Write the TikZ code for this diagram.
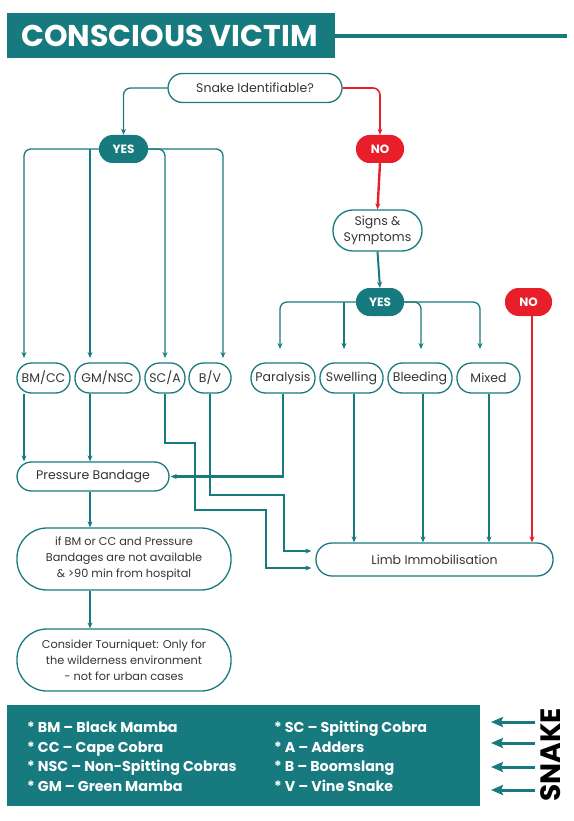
\documentclass[tikz,border=0pt]{standalone}
\usepackage{fontspec}
\setmainfont{Poppins}
\usetikzlibrary{arrows.meta,calc}
\definecolor{teal1}{HTML}{177A7F}
\definecolor{red1}{HTML}{E81E2B}
\definecolor{txt}{HTML}{353535}
\begin{document}
\begin{tikzpicture}[x=1pt,y=-1pt,
  pill/.style={draw=teal1, line width=1.3pt, fill=white, text=txt,
    font=\fontsize{12.5}{16.5}\selectfont, align=center, inner sep=0pt,
    minimum height=30pt, rounded corners=14.5pt},
  multi/.style={pill, font=\fontsize{11.3}{16}\selectfont, minimum width=214pt, minimum height=62pt, rounded corners=30pt},
  tag/.style={fill=teal1, text=white, font=\bfseries\fontsize{12}{12}\selectfont,
    inner sep=0pt, minimum width=49pt, minimum height=28pt, rounded corners=13.5pt},
  redtag/.style={tag, fill=red1},
  arrA/.style={draw=teal1, line width=1.3pt, -{Stealth[length=6pt,width=5pt]}},
  arrB/.style={draw=teal1, line width=2pt, -{Stealth[length=6pt,width=5pt]}},
  arrC/.style={draw=teal1, line width=2.7pt, -{Stealth[length=6pt,width=5pt]}},
  arrR/.style={draw=red1, line width=1.6pt, -{Stealth[length=6pt,width=5pt]}},
  arrRB/.style={draw=red1, line width=2.4pt, -{Stealth[length=6pt,width=5pt]}},
  legtext/.style={anchor=base west, text=white, font=\bfseries\fontsize{14.3}{14.3}\selectfont, inner sep=0pt},
  legarrow/.style={draw=teal1, line width=3pt, -{Stealth[length=12pt,width=10pt,inset=2pt]}}
]
\useasboundingbox (0,0) rectangle (573,821);

% header
\fill[teal1] (6.6,13) rectangle (335,58);
\node[text=white, font=\bfseries\fontsize{30}{30}\selectfont, inner sep=0pt] (title) at (169.5,35.5) {CONSCIOUS VICTIM};
\coordinate (hlineend) at (567,36);
\draw[teal1, line width=3.5pt] (335,36) -- (hlineend);

% nodes
\node[pill, minimum width=174pt, minimum height=29pt] (snake) at (255,88) {Snake Identifiable?};
\node[tag] (yesL) at (123.5,149) {YES};
\node[redtag, minimum width=48pt] (noT) at (380,149) {NO};
\node[pill, minimum width=89pt, minimum height=41pt, rounded corners=20pt] (signs) at (377.5,230.5) {Signs \&\\Symptoms};
\node[tag, minimum width=48pt] (yesR) at (380,302) {YES};
\node[redtag, minimum width=47pt] (noR) at (528.5,302) {NO};

\node[pill, minimum width=53pt] (bmcc) at (43.5,378) {BM/CC};
\node[pill, minimum width=65pt] (gmnsc) at (107.5,378) {GM/NSC};
\node[pill, minimum width=40pt] (sca) at (165,378) {SC/A};
\node[pill, minimum width=42pt] (bv) at (210,378) {B/V};
\node[pill, minimum width=64pt] (para) at (283,378) {Paralysis};
\node[pill, minimum width=63pt] (swell) at (351.5,378) {Swelling};
\node[pill, minimum width=64pt] (bleed) at (420,378) {Bleeding};
\node[pill, minimum width=63pt] (mixed) at (488.5,378) {Mixed};

\node[pill, minimum width=152pt, minimum height=29pt] (pb) at (93,476.5) {Pressure Bandage};
\node[multi] (ifbm) at (124,559) {if BM or CC and Pressure\\Bandages are not available\\\& >90 min from hospital};
\node[multi] (tourn) at (124,660) {Consider Tourniquet: Only for\\the wilderness environment\\- not for urban cases};
\node[pill, minimum width=237pt, minimum height=33pt, rounded corners=16pt] (limb) at (434.5,559.5) {Limb Immobilisation};

% arrow entry points
\coordinate (tBM) at (24,358);
\coordinate (tGM) at (90,358);
\coordinate (tSC) at (165,358);
\coordinate (tBV) at (223,358);
\coordinate (tPA) at (280,349);
\coordinate (tSW) at (344,349);
\coordinate (tBL) at (421,349);
\coordinate (tMX) at (480,349);

% top
\draw[arrA, rounded corners=7pt] (snake.west) -| (yesL.north);
\draw[arrR, rounded corners=7pt] (snake.east) -| (noT.north);
\draw[arrRB] (noT.south) -- (signs.north);
\draw[arrB] (signs.south) -- (yesR.north);

% left YES branches
\draw[arrA, rounded corners=7pt] (yesL.west) -| (tBM);
\draw[arrA] (yesL.west -| tGM) -- (tGM);
\draw[arrA, rounded corners=7pt] (yesL.east) -| (tSC);
\draw[arrA, rounded corners=7pt] (yesL.east) -| (tBV);

% right YES branches
\draw[arrA, rounded corners=7pt] (yesR.west) -| (tPA);
\draw[arrA] (yesR.west -| tSW) -- (tSW);
\draw[arrA, rounded corners=7pt] (yesR.east) -| (tBL);
\draw[arrA, rounded corners=7pt] (yesR.east) -| (tMX);

% below boxes
\draw[arrC] (bmcc.south -| tBM) -- (tBM |- pb.north);
\draw[arrC] (gmnsc.south -| tGM) -- (tGM |- pb.north);
\draw[arrC] (sca.south) -- (165,443) -- (195,443) -- (195,510) -- (266,510) -- (266,568) -- ([xshift=-4pt,yshift=-8.5pt]limb.west);
\draw[arrC] (bv.south) -- (210,495) -- (284,495) -- (284,551) -- ([xshift=-4pt,yshift=8.5pt]limb.west);
\draw[arrC] (para.south) |- ([xshift=1pt]pb.east);
\draw[arrB] ([xshift=2.5pt]swell.south) -- ([xshift=2.5pt]swell.south |- limb.north);
\draw[arrB] ([xshift=3pt]bleed.south) -- ([xshift=3pt]bleed.south |- limb.north);
\draw[arrB] ([xshift=0.5pt]mixed.south) -- ([xshift=0.5pt]mixed.south |- limb.north);
\draw[arrR] ([xshift=3.5pt]noR.south) -- ([xshift=3.5pt]noR.south |- limb.north);
\draw[arrC] (pb.south -| tGM) -- (tGM |- ifbm.north);
\draw[arrB] (ifbm.south -| tGM) -- (tGM |- tourn.north);

% legend
\fill[teal1] (6.6,705) rectangle (480,806);
\node[legtext] (l1) at (27,732) {* BM – Black Mamba};
\node[legtext] (l2) at (27,752) {* CC – Cape Cobra};
\node[legtext] (l3) at (27,771) {* NSC – Non-Spitting Cobras};
\node[legtext] (l4) at (27,791) {* GM – Green Mamba};
\node[legtext] (r1) at (274,732) {* SC – Spitting Cobra};
\node[legtext] (r2) at (274,752) {* A – Adders};
\node[legtext] (r3) at (274,771) {* B – Boomslang};
\node[legtext] (r4) at (274,791) {* V – Vine Snake};

\node[rotate=90, font=\bfseries\fontsize{28}{28}\selectfont, inner sep=0pt] (snk) at (551,755) {SNAKE};
\coordinate (a1s) at (535,722); \coordinate (a1e) at (491,722);
\coordinate (a2s) at (535,743); \coordinate (a2e) at (491,743);
\coordinate (a3s) at (535,767); \coordinate (a3e) at (491,767);
\coordinate (a4s) at (535,790); \coordinate (a4e) at (491,790);
\draw[legarrow] (a1s) -- (a1e);
\draw[legarrow] (a2s) -- (a2e);
\draw[legarrow] (a3s) -- (a3e);
\draw[legarrow] (a4s) -- (a4e);
\end{tikzpicture}
\end{document}
